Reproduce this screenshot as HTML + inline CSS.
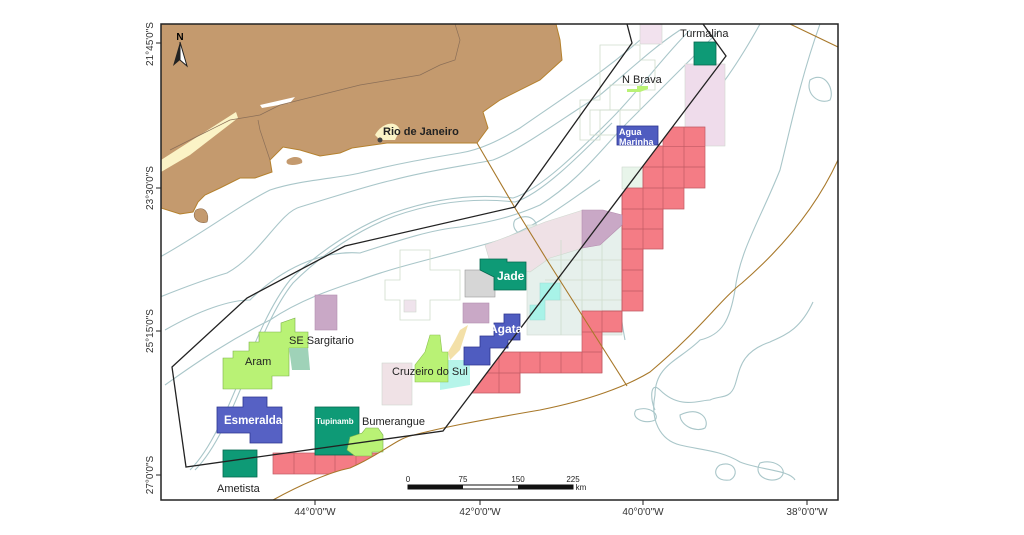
<!DOCTYPE html>
<html><head><meta charset="utf-8"><style>
html,body{margin:0;padding:0;background:#fff;}
svg{display:block;font-family:"Liberation Sans",sans-serif;}
</style></head><body>
<svg width="1024" height="535" viewBox="0 0 1024 535" xmlns="http://www.w3.org/2000/svg">
<rect width="1024" height="535" fill="#fff"/>
<defs>
<clipPath id="fr"><rect x="161" y="24" width="677" height="476"/></clipPath>
<clipPath id="rd"><polygon points="443,431 726,56 838,56 838,500 443,500"/></clipPath>
<clipPath id="bc"><path d="M260,440 L410,436 C395,440 380,455 350,468 C330,472 300,485 273,500 L260,500Z"/></clipPath>
</defs>
<g clip-path="url(#fr)">
<!-- contours -->
<g fill="none" stroke="#a9c6c9" stroke-width="1.1">
<path d="M160,257 C200,235 240,205 270,190 C300,180 340,178 360,173 C400,163 430,158 460,153 C480,150 500,140 520,128 C560,100 600,75 640,40"/>
<path d="M160,297 C190,285 210,278 227,273 C260,255 280,212 300,207 C340,195 370,185 393,180 C430,170 470,165 493,160 C520,150 560,120 600,95 C630,70 650,50 680,30"/>
<path d="M190,470 C230,430 250,330 290,280 C320,250 360,225 393,213 C430,200 470,193 513,198 C540,190 580,150 610,120 C640,90 660,60 690,30"/>
<path d="M195,470 C235,430 255,330 293,283 C323,253 362,228 395,216 C432,203 472,197 515,202 C542,194 582,153 612,123"/>
<path d="M165,330 C200,310 230,300 250,300 C280,270 320,250 360,253 C400,240 430,230 460,227 C490,222 513,217 540,205 C580,180 600,150 630,120 C660,90 690,60 720,30"/>
<path d="M165,385 C200,360 230,340 270,320 C300,300 330,290 360,280 C400,265 450,255 500,240 C540,225 570,200 600,180"/>
<path d="M760,24 C740,60 720,90 700,110 C680,150 660,190 640,230 C620,260 615,290 625,340"/>
<path d="M820,24 C800,80 790,130 780,170 C760,220 740,250 735,290 C730,320 722,335 700,340 C680,360 655,365 655,395 C650,420 660,440 680,445 C700,450 720,450 740,462 C760,470 790,470 795,480"/>
<path d="M813,302 C800,330 785,335 770,342 C740,352 740,370 735,385 C730,400 720,395 710,400 C700,400 680,410 660,390 C650,380 650,400 655,410"/>
<path d="M636,410 C650,405 660,415 655,420 C645,425 630,418 636,410Z"/>
<path d="M680,415 C700,405 710,420 705,428 C695,433 680,425 680,415Z"/>
<path d="M720,465 C735,460 740,475 730,480 C715,482 712,470 720,465Z"/>
<path d="M760,463 C775,458 790,470 780,478 C770,484 752,476 760,463Z"/>
<path d="M810,80 C825,70 835,90 830,100 C820,105 805,95 810,80Z"/>
<path d="M515,220 C530,210 545,225 530,235 C520,238 510,228 515,220Z"/>
</g>
<!-- pale blocks -->
<g stroke="#cfd8cf" stroke-width="0.6">
<rect x="527" y="225" width="95" height="110" fill="#e6f0ec"/>
<path d="M485,245 L520,232 L545,222 L583,210 L583,248 L550,258 L530,272 L490,262Z" fill="#efe1e6"/>
<rect x="685" y="64" width="40" height="82" fill="#efdceb"/>
<rect x="640" y="24" width="22" height="20" fill="#f2e2ee"/>
<rect x="622" y="167" width="22" height="22" fill="#e8f5ea"/>
<rect x="382" y="363" width="30" height="42" fill="#f0e2e6"/>
<rect x="404" y="300" width="12" height="12" fill="#efe3ec"/>
</g>
<g fill="none" stroke="#cfdccc" stroke-width="0.8">
<path d="M600,45 L640,45 L640,60 L655,60 L655,90 L640,90 L640,110 L600,110 L600,140 L580,140 L580,100 L600,100Z"/>
<path d="M400,250 L430,250 L430,270 L460,270 L460,300 L430,300 L430,320 L400,320 L400,300 L385,300 L385,280 L400,280Z"/>
<rect x="610" y="85" width="30" height="25"/><rect x="590" y="110" width="30" height="25"/>
<path d="M545,260 H622 M545,280 H622 M545,300 H622 M561,240 V335 M582,240 V335 M602,240 V335"/>
</g>
<path d="M540,283 L560,283 L560,300 L545,300 L545,320 L530,320 L530,305 L540,305Z" fill="#a8f3e8" stroke="#9fdcd4" stroke-width="0.6"/>
<path d="M440,360 L470,360 L470,385 L440,390Z" fill="#b6f5ea"/>
<!-- land -->
<path d="M161,24 L556,24 L560,40 L562,60 L540,80 L500,100 L483,112 L488,128 L477,143 L430,143 L387,143 L352,148 L340,153 L320,156 L300,150 L283,147 L270,160 L272,172 L255,178 L240,178 L220,188 L205,195 L198,202 L193,212 L180,214 L161,208Z" fill="#c49a6e" stroke="#b5812e" stroke-width="1"/>
<path d="M196,210 C205,205 210,215 207,222 C200,225 190,218 196,210Z" fill="#c49a6e" stroke="#8a6a4a" stroke-width="0.6"/>
<path d="M287,160 C295,154 304,158 302,163 C295,166 284,166 287,160Z" fill="#c49a6e"/>
<path d="M161,160 L236,112 L238,118 L190,155 L161,172Z" fill="#fbf3c6"/>
<path d="M260,105 L295,97 L290,103 L262,108Z" fill="#fff"/>
<path d="M375,135 C380,125 395,118 400,130 L395,140 L380,140Z" fill="#fbf3c6"/>
<circle cx="380" cy="140" r="2.5" fill="#444"/>
<path d="M170,150 L200,135 L230,120 L260,115 L280,105 L300,100 L320,95 L340,90 L360,85 L390,80 L420,75 L440,65 L455,60 L460,40 L455,24" fill="none" stroke="#8b6f58" stroke-width="0.7"/>
<path d="M270,160 L265,145 L260,130 L258,120" fill="none" stroke="#8b6f58" stroke-width="0.7"/>
<!-- red blocks -->
<g clip-path="url(#rd)" fill="#f47c85" stroke="#c05a63" stroke-width="0.7">
<path d="M684,127 H705 V188 H684 V209 H663 V249 H643 V311 H622 V332 H602 V373 H520 V393 H460 V352 H582 V311 H622 V188 H643 V146 H663 V127Z"/>
<path d="M684,146.7 H705 M684,167 H705 M663,146.7 H684 M663,167 H684 M663,188 H684 M643,167 H663 M643,188 H663 M643,209 H663 M643,229 H663 M622,209 H643 M622,229 H643 M622,249 H643 M622,270 H643 M622,291 H643 M582,332 H602 M582,352 H602 M477,373 H520 M602,311 H622" fill="none"/>
<path d="M684,127 V188 M663,146 V249 M643,167 V311 M622,188 V332 M602,311 V373 M582,352 V373 M561,352 V373 M540,352 V373 M520,352 V393 M499,352 V393" fill="none"/>
</g>
<g clip-path="url(#bc)" fill="#f47c85" stroke="#c05a63" stroke-width="0.7">
<rect x="273" y="453" width="140" height="21"/>
<path d="M294,453 V474 M315,453 V474 M335,453 V474 M356,453 V474 M376,453 V474 M397,453 V474" fill="none"/>
</g>
<!-- purple blocks -->
<g fill="#c9a8c6" stroke="#b58fb0" stroke-width="0.6">
<path d="M582,210 L603,210 L622,215 L622,225 L600,245 L582,248Z"/>
<rect x="315" y="295" width="22" height="35"/>
<rect x="463" y="303" width="26" height="20"/>
</g>
<rect x="465" y="270" width="30" height="27" fill="#d6d6d6" stroke="#999" stroke-width="0.6"/>
<path d="M480,259 L507,259 L507,262 L526,262 L526,290 L494,290 L494,277 L480,270Z" fill="#0e9a76" stroke="#05694f" stroke-width="0.8"/>
<path d="M504,314 L520,314 L520,340 L508,340 L508,348 L490,348 L490,365 L464,365 L464,347 L480,347 L480,336 L494,336 L494,323 L504,323Z" fill="#4f5cc0" stroke="#2c3590" stroke-width="0.8"/>
<path d="M430,335 L440,335 L442,352 L448,352 L448,382 L415,382 L415,365 L425,352Z" fill="#b9f275" stroke="#8bc050" stroke-width="0.6"/>
<path d="M448,352 L455,340 L460,330 L468,325 L460,350 L450,360Z" fill="#f3e0a8"/>
<path d="M223,389 L223,358 L233,358 L233,351 L249,351 L249,342 L259,342 L259,332 L281,332 L281,323 L295,318 L295,332 L308,332 L308,348 L289,348 L289,376 L272,376 L272,389Z" fill="#b9f275" stroke="#7bb04a" stroke-width="0.6"/>
<path d="M289,348 L308,348 L310,370 L292,370Z" fill="#9fd2b8"/>
<path d="M217,407 L243,407 L243,397 L267,397 L267,407 L282,407 L282,443 L250,443 L250,433 L217,433Z" fill="#5661c4" stroke="#2c3590" stroke-width="0.8"/>
<rect x="315" y="407" width="44" height="48" fill="#0e9a76" stroke="#05694f" stroke-width="0.8"/>
<path d="M350,437 L362,433 L366,428 L378,428 L383,435 L383,452 L372,452 L372,456 L355,456 L347,450Z" fill="#b9f275" stroke="#7bb04a" stroke-width="0.6"/>
<rect x="223" y="450" width="34" height="27" fill="#0e9a76" stroke="#05694f" stroke-width="0.8"/>
<rect x="694" y="42" width="22" height="23" fill="#0e9a76" stroke="#05694f" stroke-width="0.8"/>
<rect x="617" y="126" width="41" height="19" fill="#4f5cc0" stroke="#2c3590" stroke-width="0.8"/>
<path d="M627,89 L637,89 L637,86 L648,86 L648,89 L640,92 L627,92Z" fill="#b9f275"/>
<g fill="none" stroke="#a8782a" stroke-width="1.1">
<path d="M477,143 L515,208 L547,260 L580,312 L627,386"/>
<path d="M273,500 C300,485 330,472 350,468 C380,455 395,440 410,436 C440,428 470,422 540,410 C590,400 627,386 650,372 C700,330 720,300 742,283 C780,250 815,210 838,160"/>
<path d="M790,24 L838,47"/>
</g>
<path d="M627,24 L632,43 L515,207 L345,246 L247,298 L172,367 L186,467 L443,431 L726,56 L703,24" fill="none" stroke="#222" stroke-width="1.3"/>
</g>
<rect x="161" y="24" width="677" height="476" fill="none" stroke="#222" stroke-width="1.5"/>
<g stroke="#222" stroke-width="1">
<path d="M156,43 H161 M156,188 H161 M156,331 H161 M156,475 H161"/>
<path d="M315,500 V505 M480,500 V505 M643,500 V505 M807,500 V505"/>
</g>
<g font-size="10" fill="#333">
<text transform="translate(153,44) rotate(-90)" text-anchor="middle">21°45'0"S</text>
<text transform="translate(153,188) rotate(-90)" text-anchor="middle">23°30'0"S</text>
<text transform="translate(153,331) rotate(-90)" text-anchor="middle">25°15'0"S</text>
<text transform="translate(153,475) rotate(-90)" text-anchor="middle">27°0'0"S</text>
<text x="315" y="515" text-anchor="middle">44°0'0"W</text>
<text x="480" y="515" text-anchor="middle">42°0'0"W</text>
<text x="643" y="515" text-anchor="middle">40°0'0"W</text>
<text x="807" y="515" text-anchor="middle">38°0'0"W</text>
</g>
<text x="180" y="40" font-size="10" font-weight="bold" text-anchor="middle">N</text>
<path d="M180,42 L173,66 L180,60Z" fill="#222"/><path d="M180,42 L187,66 L180,60Z" fill="#fff" stroke="#222" stroke-width="1"/>
<rect x="408" y="485" width="165" height="4" fill="#fff" stroke="#111" stroke-width="1"/>
<rect x="408" y="485" width="55" height="4" fill="#111"/>
<rect x="518" y="485" width="55" height="4" fill="#111"/>
<g font-size="8" fill="#222" text-anchor="middle">
<text x="408" y="482">0</text><text x="463" y="482">75</text><text x="518" y="482">150</text><text x="573" y="482">225</text>
<text x="581" y="490">km</text></g>
<g font-size="11" fill="#222">
<text x="383" y="135" font-weight="bold">Rio de Janeiro</text>
<text x="289" y="344">SE Sargitario</text>
<text x="245" y="365">Aram</text>
<text x="392" y="375">Cruzeiro do Sul</text>
<text x="362" y="425">Bumerangue</text>
<text x="217" y="492">Ametista</text>
<text x="680" y="37">Turmalina</text>
<text x="622" y="83">N Brava</text>
</g>
<g fill="#fff" font-weight="bold">
<text x="224" y="424" font-size="11.5">Esmeralda</text>
<text x="497" y="280" font-size="12">Jade</text>
<text x="489" y="333" font-size="12">Agata</text>
<text x="316" y="424" font-size="8">Tupinamb</text>
<text x="619" y="135" font-size="9">Agua</text>
<text x="619" y="145" font-size="9">Marinha</text>
</g>
</svg>
</body></html>
